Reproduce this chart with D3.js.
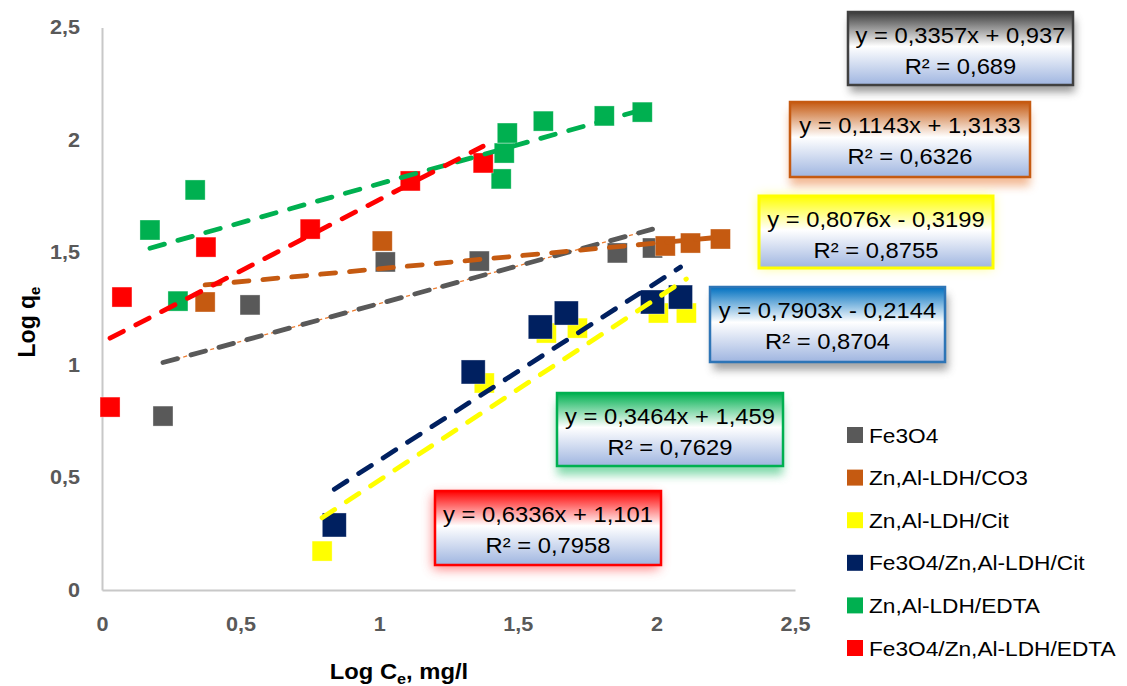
<!DOCTYPE html>
<html><head><meta charset="utf-8">
<script src="https://cdn.jsdelivr.net/npm/d3@7/dist/d3.min.js"></script>
<style>body{margin:0;background:#fff}svg{display:block}</style>
</head><body>
<svg id="chart" width="1127" height="686"></svg>
<script>
// ---------- data ----------
const seriesNames = ["Fe3O4","Zn,Al-LDH/CO3","Zn,Al-LDH/Cit","Fe3O4/Zn,Al-LDH/Cit","Zn,Al-LDH/EDTA","Fe3O4/Zn,Al-LDH/EDTA"];
const fe3o4X = [0.22, 0.534, 1.022, 1.361, 1.859, 1.986];
const fe3o4Y = [0.773, 1.267, 1.458, 1.462, 1.498, 1.52];
const co3X = [0.372, 1.011, 2.032, 2.123, 2.231];
const co3Y = [1.28, 1.551, 1.529, 1.542, 1.56];
const citX = [0.794, 1.379, 1.603, 1.715, 2.007, 2.108];
const citY = [0.173, 0.92, 1.142, 1.164, 1.231, 1.231];
const feCitX = [0.838, 1.339, 1.581, 1.675, 1.986, 2.087];
const feCitY = [0.289, 0.969, 1.169, 1.231, 1.28, 1.302];
const edtaX = [0.173, 0.274, 0.336, 1.44, 1.451, 1.462, 1.592, 1.812, 1.949];
const edtaY = [1.6, 1.284, 1.778, 1.827, 1.942, 2.031, 2.084, 2.107, 2.124];
const feEdtaX = [0.029, 0.072, 0.375, 0.751, 1.112, 1.375];
const feEdtaY = [0.813, 1.302, 1.524, 1.604, 1.818, 1.898];
const slopes = [0.3357, 0.1143, 0.8076, 0.7903, 0.3464, 0.6336];
const intercepts = [0.937, 1.3133, -0.3199, -0.2144, 1.459, 1.101];
const eqLabels = ["y = 0,3357x + 0,937","y = 0,1143x + 1,3133","y = 0,8076x - 0,3199","y = 0,7903x - 0,2144","y = 0,3464x + 1,459","y = 0,6336x + 1,101"];
const r2Labels = ["R² = 0,689","R² = 0,6326","R² = 0,8755","R² = 0,8704","R² = 0,7629","R² = 0,7958"];
const xTickVals = [0, 0.5, 1, 1.5, 2, 2.5];
const yTickVals = [0, 0.5, 1, 1.5, 2, 2.5];
const tickLabels = ["0","0,5","1","1,5","2","2,5"];

// ---------- styles ----------
const colors = ["#595959","#C55A11","#FFFF00","#002060","#00B050","#FF0000"];
const markerSize = [20, 20, 20, 24, 20, 20];
const xsAll = [fe3o4X, co3X, citX, feCitX, edtaX, feEdtaX];
const ysAll = [fe3o4Y, co3Y, citY, feCitY, edtaY, feEdtaY];
const boxes = [
  {x:848, y:12, w:225, h:73, top:"#3a3a3a", border:"#404040", shadow:"#7f7f7f", dx:2, dy:7, blur:4, sop:0.8},
  {x:790, y:102, w:240, h:75, top:"#C55A11", border:"#C55A11", shadow:"#f0a87a", dx:0, dy:9, blur:5, sop:0.8},
  {x:759, y:196, w:234, h:72, top:"#FFFF00", border:"#FFFF00", shadow:"#ffff70", dx:0, dy:0, blur:6, sop:0.9},
  {x:710, y:287, w:235, h:75, top:"#0070C0", border:"#2E75B6", shadow:"#8c8c8c", dx:3, dy:8, blur:4, sop:0.8},
  {x:557, y:393, w:226, h:73, top:"#00B050", border:"#00B050", shadow:"#66d098", dx:0, dy:9, blur:5, sop:0.8},
  {x:435, y:491, w:226, h:74, top:"#FF0000", border:"#FF0000", shadow:"#ff6060", dx:-2, dy:4, blur:6, sop:0.8}
];
const FONT = "'Liberation Sans', Arial, sans-serif";
const K = 1.08;

const svg = d3.select("#chart");
const x = d3.scaleLinear().domain([0, 2.5]).range([102, 795]);
const y = d3.scaleLinear().domain([0, 2.5]).range([590, 27.5]);

const defs = svg.append("defs");
boxes.forEach((b, i) => {
  const g = defs.append("linearGradient").attr("id", "grad" + i).attr("x1", 0).attr("y1", 0).attr("x2", 0).attr("y2", 1);
  g.append("stop").attr("offset", "0").attr("stop-color", b.top);
  g.append("stop").attr("offset", "0.47").attr("stop-color", "#ffffff");
  g.append("stop").attr("offset", "1").attr("stop-color", "#9fb5e0");
  const f = defs.append("filter").attr("id", "blur" + i).attr("x", "-30%").attr("y", "-40%").attr("width", "160%").attr("height", "180%");
  f.append("feGaussianBlur").attr("stdDeviation", b.blur);
});

// axes
const xAxis = d3.axisBottom(x).tickValues(xTickVals).tickSize(0).tickPadding(27).tickFormat((d, i) => tickLabels[i]);
const yAxis = d3.axisLeft(y).tickValues(yTickVals).tickSize(0).tickPadding(22).tickFormat((d, i) => tickLabels[i]);
const gx = svg.append("g").attr("transform", "translate(0,590)").call(xAxis);
const gy = svg.append("g").attr("transform", "translate(102,0)").call(yAxis);
[gx, gy].forEach(g => {
  g.select(".domain").attr("stroke", "#c8c8c8").attr("stroke-width", 2);
  g.selectAll("text").attr("class", "st tk").attr("font-family", FONT).attr("font-size", 20).attr("font-weight", "bold").attr("fill", "#595959");
});

// markers
xsAll.forEach((xs, s) => {
  const pts = xs.map((v, i) => [v, ysAll[s][i]]);
  svg.append("g").selectAll("rect").data(pts).join("rect")
    .attr("x", d => x(d[0]) - markerSize[s] / 2)
    .attr("y", d => y(d[1]) - markerSize[s] / 2)
    .attr("width", markerSize[s]).attr("height", markerSize[s])
    .attr("fill", colors[s]).attr("stroke", "rgba(255,255,255,0.5)").attr("stroke-width", 0.7);
});

// trendlines
const line = d3.line().x(d => x(d[0])).y(d => y(d[1]));
xsAll.forEach((xs, s) => {
  const x0 = d3.min(xs), x1 = d3.max(xs);
  const seg = [[x0, slopes[s] * x0 + intercepts[s]], [x1, slopes[s] * x1 + intercepts[s]]];
  if (s === 0) {
    svg.append("path").attr("d", line(seg)).attr("fill", "none")
      .attr("stroke", "#ED7D31").attr("stroke-width", 1.3).attr("stroke-dasharray", "4 3");
  }
  svg.append("path").attr("d", line(seg)).attr("fill", "none")
    .attr("stroke", colors[s]).attr("stroke-width", 4.8).attr("stroke-linecap", "round")
    .attr("stroke-dasharray", "15 14");
});

// equation boxes
boxes.forEach((b, i) => {
  const g = svg.append("g");
  g.append("rect").attr("x", b.x + b.dx).attr("y", b.y + b.dy).attr("width", b.w).attr("height", b.h)
    .attr("fill", b.shadow).attr("opacity", b.sop).attr("filter", "url(#blur" + i + ")");
  g.append("rect").attr("x", b.x).attr("y", b.y).attr("width", b.w).attr("height", b.h)
    .attr("fill", "url(#grad" + i + ")").attr("stroke", b.border).attr("stroke-width", i === 2 ? 3 : 2.5);
  g.append("text").attr("class", "st").attr("x", b.x + b.w / 2).attr("y", b.y + 31)
    .attr("text-anchor", "middle").attr("font-family", FONT).attr("font-size", 22).attr("fill", "#000").text(eqLabels[i]);
  g.append("text").attr("class", "st").attr("x", b.x + b.w / 2).attr("y", b.y + 62)
    .attr("text-anchor", "middle").attr("font-family", FONT).attr("font-size", 22).attr("fill", "#000").text(r2Labels[i]);
});

// legend
const legend = svg.append("g");
seriesNames.forEach((n, i) => {
  const cy = 435 + i * 42.6;
  legend.append("rect").attr("x", 847).attr("y", cy - 8).attr("width", 16).attr("height", 16).attr("fill", colors[i]);
  legend.append("text").attr("class", "st").attr("x", 869).attr("y", cy + 7.5)
    .attr("font-family", FONT).attr("font-size", 21).attr("fill", "#000").text(n);
});

// axis titles
const xt = svg.append("text").attr("class", "st").attr("x", 399).attr("y", 679).attr("text-anchor", "middle")
  .attr("font-family", FONT).attr("font-size", 22).attr("font-weight", "bold").attr("fill", "#000");
xt.append("tspan").text("Log C");
xt.append("tspan").attr("font-size", 15).attr("dy", 5).text("e");
xt.append("tspan").attr("dy", -5).text(", mg/l");

const yt = svg.append("text").attr("transform", "translate(35,322) rotate(-90)").attr("text-anchor", "middle")
  .attr("font-family", FONT).attr("font-size", 23).attr("font-weight", "bold").attr("fill", "#000");
yt.append("tspan").text("Log q");
yt.append("tspan").attr("font-size", 15).attr("dy", 5).text("e");

// slight horizontal widening of text to match reference proportions
svg.selectAll("text.st").each(function () {
  const w = this.getComputedTextLength();
  d3.select(this).attr("textLength", w * K).attr("lengthAdjust", "spacingAndGlyphs");
});
</script>
</body></html>
